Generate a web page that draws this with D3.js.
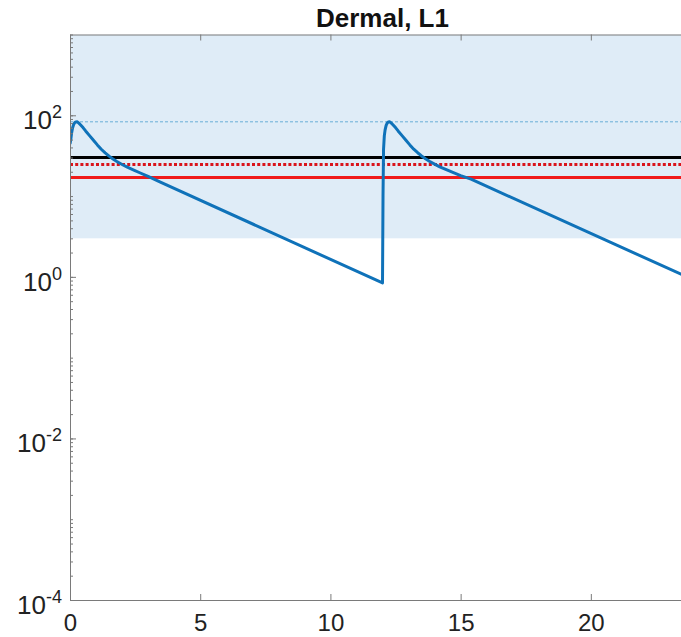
<!DOCTYPE html>
<html>
<head>
<meta charset="UTF-8">
<title>Dermal, L1</title>
<script src="https://d3js.org/d3.v7.min.js"></script>
<style>
  body { margin: 0; padding: 0; background: #fff; }
  svg { display: block; font-family: Arial, "Liberation Sans", sans-serif; }
  .axis path, .axis line { stroke: #7a7a7a; }
</style>
</head>
<body>
<div id="chart"></div>
<script>
// first dose (time in h, concentration)
const dose1T = [0, 0.03, 0.06, 0.1, 0.14, 0.18, 0.22, 0.28, 0.34, 0.4, 0.5, 0.6, 0.75, 0.9, 1.05, 1.2, 1.35, 1.5, 1.65, 1.8, 2.0, 2.2, 2.45, 2.7, 3.0, 3.45, 12];
const dose1V = [44, 50, 60, 70, 77, 81, 82.8, 83, 80, 76.5, 70.5, 64, 56, 49, 43, 38, 34.2, 31.2, 28.8, 26.8, 24.6, 22.8, 21, 19.3, 17.5, 15, 0.84];
// second dose
const dose2T = [12, 12.02, 12.04, 12.07, 12.1, 12.14, 12.18, 12.22, 12.28, 12.34, 12.4, 12.5, 12.6, 12.75, 12.9, 13.05, 13.2, 13.35, 13.5, 13.65, 13.8, 14.0, 14.2, 14.45, 14.7, 15.0, 15.4, 24];
const dose2V = [0.84, 10, 38, 56, 66, 75, 80, 82.5, 83, 80, 76.5, 70.5, 64, 56, 49, 43, 38, 34.4, 31.4, 29, 27, 24.9, 23, 21.2, 19.6, 17.9, 16.2, 0.9];

const xTicks = [0, 5, 10, 15, 20];
const yMajor = [1e-4, 1e-2, 1, 1e2];
const yExp = ["-4", "-2", "0", "2"];

const peakLevel = 83;      // thin dashed line
const blackLevel = 30;
const redDotLevel = 24.6;
const redLevel = 17;
const bandLow = 3, bandHigh = 1000;

const W = 681, H = 637;
const mLeft = 70, mTop = 34.5, mBottom = 600, mRight = 695;

const svg = d3.select("#chart").append("svg")
  .attr("width", W).attr("height", H);

const x = d3.scaleLinear().domain([0, 24]).range([mLeft, mRight]);
const y = d3.scaleLog().domain([1e-4, 1e3]).range([mBottom, mTop]);

svg.append("defs").append("clipPath").attr("id", "clip")
  .append("rect").attr("x", mLeft).attr("y", mTop)
  .attr("width", mRight - mLeft).attr("height", mBottom - mTop);

const plot = svg.append("g").attr("clip-path", "url(#clip)");

// shaded band
plot.append("rect")
  .attr("x", x(0)).attr("width", x(24) - x(0))
  .attr("y", y(bandHigh)).attr("height", y(bandLow) - y(bandHigh))
  .attr("fill", "#dfecf7");

function hline(v, color, width, dash) {
  plot.append("line")
    .attr("x1", x(0)).attr("x2", x(24))
    .attr("y1", y(v)).attr("y2", y(v))
    .attr("stroke", color).attr("stroke-width", width)
    .attr("stroke-dasharray", dash || null);
}
hline(peakLevel, "#6aaed6", 1, "3,2");
hline(blackLevel, "#000", 3);
hline(redDotLevel, "#d9141b", 3, "3,2.2");
hline(redLevel, "#f01a1a", 3);

const pts = dose1T.map((t, i) => [t, dose1V[i]])
  .concat(dose2T.map((t, i) => [t, dose2V[i]]));

const line = d3.line()
  .x(d => x(d[0]))
  .y(d => y(d[1]));

plot.append("path")
  .datum(pts)
  .attr("d", line)
  .attr("fill", "none")
  .attr("stroke", "#0f72b9")
  .attr("stroke-width", 3)
  .attr("stroke-linejoin", "round");

// x axis bottom + top
const xAxis = svg.append("g").attr("class", "axis")
  .attr("transform", `translate(0,${mBottom})`)
  .call(d3.axisBottom(x).tickValues(xTicks).tickSize(-6).tickSizeOuter(0).tickPadding(14));
xAxis.selectAll("text").attr("font-size", 24).attr("fill", "#222")
  .attr("font-family", "Arial, 'Liberation Sans', sans-serif");
svg.append("g").attr("class", "axis")
  .attr("transform", `translate(0,${mTop})`)
  .call(d3.axisTop(x).tickValues(xTicks).tickSize(-6).tickSizeOuter(0).tickFormat(""));

// y axis: minor ticks + major ticks
svg.append("g").attr("class", "axis")
  .attr("transform", `translate(${mLeft},0)`)
  .call(d3.axisLeft(y).tickValues(y.ticks()).tickSize(-3).tickSizeOuter(0).tickFormat(""));
svg.append("g").attr("class", "axis")
  .attr("transform", `translate(${mLeft},0)`)
  .call(d3.axisLeft(y).tickValues(yMajor).tickSize(-6).tickSizeOuter(0).tickFormat(""))
  .select(".domain").remove();

const labs = svg.append("g");
yMajor.forEach((v, i) => {
  const t = labs.append("text")
    .attr("x", mLeft - 8).attr("y", y(v) + 14)
    .attr("text-anchor", "end")
    .attr("font-size", 26).attr("fill", "#222");
  t.append("tspan").text("10");
  t.append("tspan").attr("dy", -11).attr("font-size", 18).text(yExp[i]);
});

svg.append("text")
  .attr("x", (mLeft + mRight) / 2).attr("y", 27)
  .attr("text-anchor", "middle")
  .attr("font-size", 26).attr("font-weight", "bold").attr("fill", "#111")
  .text("Dermal, L1");
</script>
</body>
</html>
